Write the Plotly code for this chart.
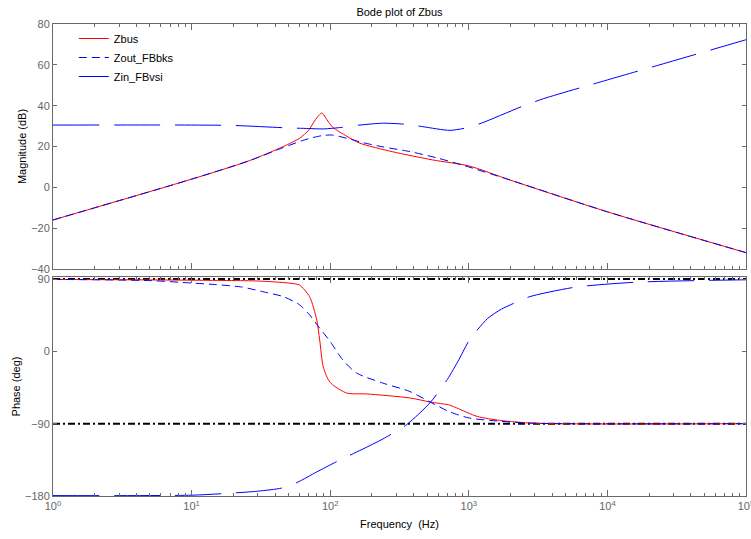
import plotly.graph_objects as go

# ---------------- data ----------------
# Magnitude (dB)
zbus_mag_f = [1, 10, 26, 46, 60, 70, 78, 87, 95, 104, 132, 164, 283, 550, 1000, 2000, 10000, 100000]
zbus_mag = [-16, 4, 13, 20, 24, 28, 33, 36.4, 33, 29.5, 25, 21.6, 17.4, 13.4, 10.5, 3.5, -12, -32]

zout_mag_f = [1, 10, 26, 46, 65, 87, 104, 132, 172, 240, 376, 590, 910, 2000, 10000, 100000]
zout_mag = [-16, 4, 13, 19.5, 23.2, 25.3, 25.6, 24, 21.9, 19.8, 17.5, 14.4, 10.8, 3.5, -12, -32]

zin_mag_f = [1, 10, 20, 46, 70, 89, 123, 164, 240, 347, 466, 730, 970, 1240, 2460, 3450, 10000, 23000, 100000]
zin_mag = [30.5, 30.5, 30.3, 29.2, 28.8, 28.6, 29.4, 30.5, 31.4, 30.9, 29.7, 27.9, 29.2, 31.5, 39.8, 43.4, 52.6, 59.7, 72.3]

# Phase (deg)
zbus_ph_f = [1, 10, 30, 50, 60, 71, 80, 84, 89, 97, 104, 132, 183, 376, 525, 733, 820, 1150, 1690, 3000, 100000]
zbus_ph = [89.5, 88.5, 87.5, 85, 82.5, 68, 39, 14, -19, -35.5, -41.6, -52, -53, -58, -63, -67, -70.5, -81, -86, -89.5, -90]

zout_ph_f = [1, 5, 10, 15, 23, 35, 46, 60, 71, 84, 100, 123, 155, 240, 376, 525, 733, 1010, 1690, 3000, 100000]
zout_ph = [89.5, 88, 85, 83, 80, 73, 68, 58, 45.3, 28.8, 12.2, -10.5, -27, -39.5, -50, -63, -75.5, -83, -87, -89.5, -90]

zin_ph_f = [1, 10, 17, 30, 45, 58, 80, 112, 170, 240, 357, 525, 700, 850, 1010, 1370, 1720, 2160, 2750, 5800, 16000, 58000, 100000]
zin_ph = [-179.5, -179, -177, -174, -170, -163, -150, -137, -122, -109, -91, -64, -35, -10, 14, 41, 52.5, 60.5, 68, 79.7, 86, 88.4, 89]

ref_levels = [90, -90]
freq_span = [1, 100000]

decade_vals = [1, 10, 100, 1000, 10000, 100000]
decade_text = ["10<sup>0</sup>", "10<sup>1</sup>", "10<sup>2</sup>", "10<sup>3</sup>", "10<sup>4</sup>", "10<sup>5</sup>"]
mag_ticks = [-40, -20, 0, 20, 40, 60, 80]
ph_ticks = [-180, -90, 0, 90]

# ---------------- figure ----------------
FONT = "Liberation Sans, Arial, Helvetica, sans-serif"
AX = "#6a6a6a"
TICKTXT = "#666666"
RED = "#ff0000"
BLUE = "#0000ff"

fig = go.Figure()

def line(color, dash="solid"):
    return dict(color=color, width=1, dash=dash, shape="spline", smoothing=0.7)

fig.add_trace(go.Scatter(x=zbus_mag_f, y=zbus_mag, name="Zbus", mode="lines",
                         line=line(RED), xaxis="x", yaxis="y"))
fig.add_trace(go.Scatter(x=zout_mag_f, y=zout_mag, name="Zout_FBbks", mode="lines",
                         line=line(BLUE, "8px,5px"), xaxis="x", yaxis="y"))
fig.add_trace(go.Scatter(x=zin_mag_f, y=zin_mag, name="Zin_FBvsi", mode="lines",
                         line=line(BLUE, "46px,15px"), xaxis="x", yaxis="y"))

for lv in ref_levels:
    fig.add_trace(go.Scatter(x=freq_span, y=[lv, lv], mode="lines", showlegend=False,
                             line=dict(color="black", width=2, dash="7px,3px,2px,3px"),
                             xaxis="x2", yaxis="y2"))

fig.add_trace(go.Scatter(x=zbus_ph_f, y=zbus_ph, mode="lines", showlegend=False,
                         line=line(RED), xaxis="x2", yaxis="y2"))
fig.add_trace(go.Scatter(x=zout_ph_f, y=zout_ph, mode="lines", showlegend=False,
                         line=line(BLUE, "8px,5px"), xaxis="x2", yaxis="y2"))
fig.add_trace(go.Scatter(x=zin_ph_f, y=zin_ph, mode="lines", showlegend=False,
                         line=line(BLUE, "46px,15px"), xaxis="x2", yaxis="y2"))

common_x = dict(type="log", range=[0, 5.00001], showline=True, linecolor=AX, linewidth=1,
                mirror="allticks", ticks="inside", ticklen=6, tickcolor=AX,
                tickvals=decade_vals, ticktext=decade_text, showgrid=False, zeroline=False,
                ticklabeloverflow="allow", automargin=False,
                minor=dict(ticks="inside", ticklen=3, tickcolor=AX, dtick="D1", showgrid=False),
                tickfont=dict(family=FONT, size=11, color=TICKTXT))
common_y = dict(showline=True, linecolor=AX, linewidth=1, mirror="allticks", automargin=False,
                ticks="inside", ticklen=4, tickcolor=AX, showgrid=False, zeroline=False,
                tickfont=dict(family=FONT, size=11, color=TICKTXT))

fig.update_layout(
    width=751, height=539,
    margin=dict(l=53, r=5, t=24, b=43),
    paper_bgcolor="white", plot_bgcolor="white",
    font=dict(family=FONT, size=11, color="black"),
    title=dict(text="Bode plot of Zbus", x=0.5, xref="paper", xanchor="center",
               y=1 - 12 / 539, yanchor="middle", font=dict(family=FONT, size=11, color="black")),
    xaxis=dict(**common_x, anchor="y", domain=[0, 1], showticklabels=False),
    xaxis2=dict(**common_x, anchor="y2", domain=[0, 1],
                title=dict(text="Frequency  (Hz)", standoff=9, font=dict(family=FONT, size=11))),
    yaxis=dict(**common_y, anchor="x", domain=[0.481, 1], range=[-40, 80], tickvals=mag_ticks,
               title=dict(text="Magnitude (dB)", standoff=2, font=dict(family=FONT, size=11))),
    yaxis2=dict(**common_y, anchor="x2", domain=[0, 0.464], range=[-180, 92.5], tickvals=ph_ticks,
                title=dict(text="Phase (deg)", standoff=2, font=dict(family=FONT, size=11))),
    legend=dict(x=0.03, y=1.0, xanchor="left", yanchor="top", bgcolor="rgba(0,0,0,0)",
                font=dict(family=FONT, size=11, color="black"), tracegroupgap=0),
    showlegend=True,
)

fig.write_html("out.html")
